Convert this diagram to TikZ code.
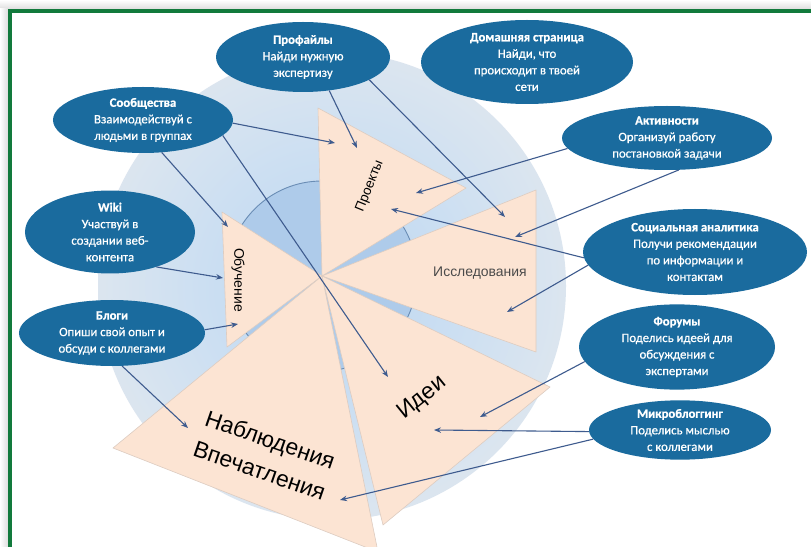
\documentclass[tikz,border=0pt]{standalone}
\usepackage{fontspec}
\setmainfont{Liberation Sans}
\newfontfamily\ovalfont[RawFeature={embolden=0.7}]{Carlito}
\usetikzlibrary{shapes.geometric,arrows.meta}

\definecolor{frameGreen}{HTML}{127A3C}
\definecolor{ovalBlue}{HTML}{1A6B9E}
\definecolor{arrowBlue}{HTML}{3E5B8E}
\definecolor{peach}{HTML}{FCE4D3}
\definecolor{peachEdge}{HTML}{DDCCC1}
\definecolor{hubBlue}{HTML}{AECBEA}
\definecolor{hubLine}{HTML}{6A8DB5}
\definecolor{hazeA}{HTML}{BCD6F0}
\definecolor{hazeB}{HTML}{CCDFF2}
\definecolor{hazeC}{HTML}{DDE6EF}
\definecolor{hazeD}{HTML}{EBEFF3}
\definecolor{labelGray}{HTML}{4A4A4A}

% soft backdrop disc behind the fan (the disc edge sits at about 35bp)
\pgfdeclareradialshading{haze}{\pgfpoint{0bp}{0bp}}{%
  color(0bp)=(hazeA); color(14bp)=(hazeB); color(26bp)=(hazeC);
  color(32bp)=(hazeD); color(35.5bp)=(white); color(50bp)=(white)}

\tikzset{
  oval/.style={ellipse, fill=ovalBlue, text=white, inner sep=0pt, align=center,
    font=\ovalfont\fontsize{12.8}{16.6}\selectfont},
  arr/.style={draw=arrowBlue, line width=1.1bp, -{Stealth[length=7bp,width=5.5bp]}},
  tri/.style={fill=peach, draw=peachEdge, line width=0.6bp, line join=round},
  sector/.style={font=\fontsize{13.5}{16}\selectfont, text=black, inner sep=1bp},
}

\begin{document}
\begin{tikzpicture}[x=1bp,y=-1bp]
\useasboundingbox (0,0) rectangle (811,547);
\fill[white] (0,0) rectangle (811,547);

% frame with its soft grey shadow
\shade[top color=white, bottom color=black!13] (0,0) rectangle (811,9);
\shade[left color=white, right color=black!13] (0,9) rectangle (8,547);
\draw[frameGreen, line width=4.5bp, line join=miter] (10,547) -- (10,11) -- (811,11);

% backdrop disc and hub
\coordinate (C) at (322,276);
\shade[shading=haze] (332,286) circle (234);
\fill[hubBlue] (C) circle (95);
\draw[hubLine, line width=0.9bp] (C) circle (95);

% the six sectors of the fan
\filldraw[tri] (C) -- (222,212) -- (227,347) -- cycle;
\filldraw[tri] (C) -- (318,108) -- (466,188) -- cycle;
\filldraw[tri] (C) -- (536,190) -- (536,352) -- cycle;
\filldraw[tri] (C) -- (550,387) -- (383,525) -- cycle;
\filldraw[tri] (C) -- (378,552) -- (113,448) -- cycle;

\node[sector, rotate=-90, font=\fontsize{14}{16}\selectfont] (obuch) at (238,280) {Обучение};
\node[sector, rotate=68] (proekty) at (370,186) {Проекты};
\node[sector, text=labelGray, font=\fontsize{14}{16}\selectfont] (issl) at (480,273) {Исследования};
\node[sector, rotate=39, font=\fontsize{23}{26}\selectfont] (idei) at (422,398) {Идеи};
\node[sector, rotate=-19, align=center, font=\fontsize{23}{33}\selectfont] (nabl) at (265,455) {Наблюдения\\Впечатления};

% tool ovals
\node[oval, minimum width=174bp, minimum height=70bp] (prof) at (303,57)
  {\textbf{Профайлы}\\Найди нужную\\экспертизу};
\node[oval, minimum width=212bp, minimum height=84bp] (home) at (527,62)
  {\textbf{Домашняя страница}\\Найди, что\\происходит в твоей\\сети};
\node[oval, minimum width=180bp, minimum height=66bp] (soob) at (143,120)
  {\textbf{Сообщества}\\Взаимодействуй с\\людьми в группах};
\node[oval, minimum width=210bp, minimum height=64bp] (aktiv) at (667,138)
  {\textbf{Активности}\\Организуй работу\\постановкой задачи};
\node[oval, minimum width=170bp, minimum height=80bp] (wiki) at (110,232)
  {\textbf{Wiki}\\Участвуй в\\создании веб-\\контента};
\node[oval, minimum width=224bp, minimum height=86bp] (soc) at (695,252)
  {\textbf{Социальная аналитика}\\Получи рекомендации\\по информации и\\контактам};
\node[oval, minimum width=186bp, minimum height=66bp] (blogi) at (112,333)
  {\textbf{Блоги}\\Опиши свой опыт и\\обсуди с коллегами};
\node[oval, minimum width=196bp, minimum height=78bp] (forum) at (677,347)
  {\textbf{Форумы}\\Поделись идеей для\\обсуждения с\\экспертами};
\node[oval, minimum width=182bp, minimum height=58bp] (micro) at (680,430)
  {\textbf{Микроблоггинг}\\Поделись мыслью\\с коллегами};

% arrow targets inside the sectors
\coordinate (t1) at (335,143);
\coordinate (t2) at (228,227);
\coordinate (t3) at (388,377);
\coordinate (t4) at (357,148);
\coordinate (t5) at (505,217);
\coordinate (t6) at (416,193);
\coordinate (t7) at (515,237);
\coordinate (t8) at (223,278);
\coordinate (t9) at (391,209);
\coordinate (t10) at (507,312);
\coordinate (t11) at (238,324);
\coordinate (t12) at (188,428);
\coordinate (t13) at (480,417);
\coordinate (t14) at (434,430);
\coordinate (t15) at (340,500);

\draw[arr] (soob.-2) -- (t1);
\draw[arr] (soob.-60) -- (t2);
\draw[arr] (soob.-11) -- (t3);
\draw[arr] (prof.-52) -- (t4);
\draw[arr] (prof.-19) -- (t5);
\draw[arr] (aktiv.186) -- (t6);
\draw[arr] (aktiv.-70) -- (t7);
\draw[arr] (wiki.-37) -- (t8);
\draw[arr] (soc.183) -- (t9);
\draw[arr] (soc.187) -- (t10);
\draw[arr] (blogi.2) -- (t11);
\draw[arr] (blogi.-73) -- (t12);
\draw[arr] (forum.189) -- (t13);
\draw[arr] (micro.181) -- (t14);
\draw[arr] (micro.186) -- (t15);
\end{tikzpicture}
\end{document}
